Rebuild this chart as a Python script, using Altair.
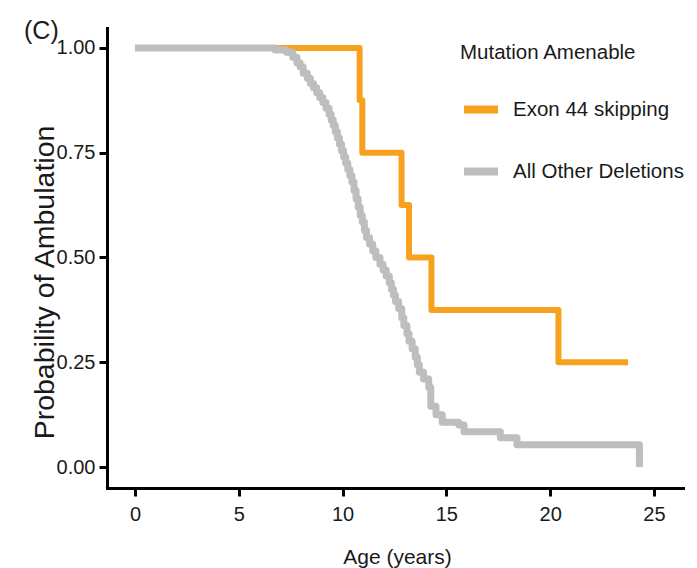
import altair as alt
import pandas as pd

# Kaplan-Meier estimates of loss of ambulation by age
exon44_label = "Exon 44 skipping"
other_label = "All Other Deletions"

exon44_age = [0.0, 10.82, 10.95, 12.84, 13.2, 14.28, 20.4, 23.75]
exon44_surv = [1.0, 0.875, 0.75, 0.625, 0.5, 0.375, 0.25, 0.25]

other_age = [0.0, 6.75, 7.3, 7.6, 7.8, 7.95, 8.1, 8.3, 8.45, 8.6, 8.75, 8.9,
             9.05, 9.2, 9.35, 9.45, 9.55, 9.65, 9.75, 9.85, 9.95, 10.05, 10.15,
             10.25, 10.35, 10.45, 10.55, 10.65, 10.75, 10.85, 10.95, 11.05,
             11.15, 11.3, 11.45, 11.6, 11.8, 11.95, 12.1, 12.25, 12.35, 12.45,
             12.55, 12.7, 12.85, 12.95, 13.1, 13.2, 13.35, 13.5, 13.6, 13.7,
             13.9, 14.15, 14.25, 14.5, 14.8, 15.6, 15.85, 17.6, 18.4, 24.3]
other_surv = [1.0, 0.995, 0.99, 0.978, 0.965, 0.955, 0.94, 0.928, 0.915, 0.905,
              0.893, 0.882, 0.87, 0.856, 0.842, 0.828, 0.815, 0.80, 0.785, 0.77,
              0.755, 0.74, 0.725, 0.71, 0.695, 0.68, 0.66, 0.64, 0.62, 0.60,
              0.585, 0.565, 0.548, 0.532, 0.516, 0.50, 0.484, 0.47, 0.456,
              0.44, 0.424, 0.41, 0.395, 0.378, 0.356, 0.338, 0.318, 0.30, 0.282,
              0.262, 0.244, 0.226, 0.21, 0.19, 0.145, 0.125, 0.107, 0.10, 0.084,
              0.07, 0.053, 0.0]

x_ticks = [0, 5, 10, 15, 20, 25]
y_ticks = [0.0, 0.25, 0.5, 0.75, 1.0]

ORANGE = "#F8A11E"
GRAY = "#BEBEBE"
FONT = "Liberation Sans, Arial, Helvetica, sans-serif"
INK = "#1a1a1a"

exon44 = pd.DataFrame({"age": exon44_age, "surv": exon44_surv, "group": exon44_label})
other = pd.DataFrame({"age": other_age, "surv": other_surv, "group": other_label})

x_enc = alt.X(
    "age:Q",
    scale=alt.Scale(domain=[-1.35, 26.4], nice=False, zero=False),
    axis=alt.Axis(
        values=x_ticks, format="d", title="Age (years)",
        titleX=290, titleY=75, titleAlign="center", titleBaseline="alphabetic",
        titleFont=FONT, titleFontSize=21, titleFontWeight="normal",
        labelPadding=8,
    ),
)
y_enc = alt.Y(
    "surv:Q",
    scale=alt.Scale(domain=[-0.0501, 1.0477], nice=False, zero=False),
    axis=alt.Axis(
        values=y_ticks, format=".2f", title="Probability of Ambulation",
        titleX=-63, titleY=254, titleAngle=-90, titleAlign="center",
        titleBaseline="middle",
        titleFont=FONT, titleFontSize=28.5, titleFontWeight="normal",
        labelPadding=4,
    ),
)
color_enc = alt.Color(
    "group:N",
    scale=alt.Scale(domain=[exon44_label, other_label], range=[ORANGE, GRAY]),
    legend=alt.Legend(
        title="Mutation Amenable",
        orient="none", legendX=353, legendY=15,
        symbolType="stroke", symbolSize=1156, symbolStrokeWidth=8,
        symbolOpacity=1,
        titleFont=FONT, titleFontSize=20.5, titleFontWeight="normal",
        titleColor=INK, titlePadding=25, titleLimit=400,
        labelFont=FONT, labelFontSize=20.5, labelColor=INK, labelLimit=400,
        labelOffset=11, rowPadding=25, padding=0,
    ),
)

orange_line = alt.Chart(exon44).mark_line(
    interpolate="step-after", strokeWidth=6, strokeJoin="round"
).encode(x=x_enc, y=y_enc, color=color_enc)

gray_line = alt.Chart(other).mark_line(
    interpolate="step-after", strokeWidth=7, strokeJoin="round"
).encode(x=x_enc, y=y_enc, color=color_enc)

chart = (
    alt.layer(orange_line, gray_line)
    .properties(
        width=576,
        height=460,
        autosize=alt.AutoSizeParams(type="none"),
        padding={"left": 107, "top": 28, "right": 14, "bottom": 80},
        title=alt.TitleParams(
            "(C)", anchor="start", frame="group", dx=-83, dy=36,
            baseline="alphabetic", font=FONT, fontSize=25,
            fontWeight="normal", color=INK, offset=0,
        ),
        background="white",
    )
    .configure_view(stroke=None)
    .configure_axis(
        grid=False,
        domainColor="black", domainWidth=3, domainCap="square",
        tickColor="black", tickWidth=3, tickSize=8,
        labelFont=FONT, labelFontSize=20, labelColor=INK,
        titleColor=INK,
    )
)

chart.save("out.html", embed_options={"renderer": "svg", "actions": False})
